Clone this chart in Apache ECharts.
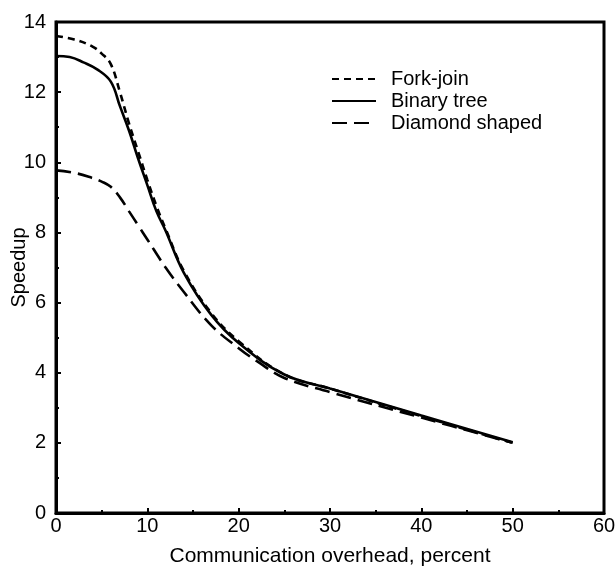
<!DOCTYPE html>
<html>
<head>
<meta charset="utf-8">
<script src="https://cdn.jsdelivr.net/npm/echarts@6/dist/echarts.min.js"></script>
<style>html,body{margin:0;padding:0;background:#fff}#c{width:616px;height:567px}</style>
</head>
<body>
<div id="c"></div>
<script>
var forkX = [0, 2, 4, 5, 6, 7, 8, 9, 10, 11, 12, 14, 17, 20, 25, 30, 40, 50];
var forkY = [13.6, 13.5, 13.3, 13.1, 12.8, 12.0, 11.1, 10.3, 9.5, 8.75, 8.1, 6.9, 5.7, 4.9, 3.95, 3.55, 2.76, 2.0];
var binX = [0, 1.5, 3, 4.5, 6, 7, 8, 9, 10, 11, 12, 14, 17, 20, 25, 30, 40, 50];
var binY = [13.03, 13.0, 12.85, 12.65, 12.3, 11.6, 10.9, 10.1, 9.35, 8.6, 8.05, 6.85, 5.65, 4.85, 3.95, 3.55, 2.78, 2.02];
var diaX = [0, 2, 4, 5, 6, 7, 8, 9, 10, 12, 14, 17, 20, 22, 25, 30, 40, 50];
var diaY = [9.77, 9.7, 9.55, 9.45, 9.3, 9.0, 8.6, 8.2, 7.8, 7.0, 6.3, 5.35, 4.7, 4.33, 3.85, 3.45, 2.72, 2.0];
var xTicks = [0, 10, 20, 30, 40, 50, 60];
var yTicks = [0, 2, 4, 6, 8, 10, 12, 14];
var seriesNames = ['Fork-join', 'Binary tree', 'Diamond shaped'];
var xName = 'Communication overhead, percent';
var yName = 'Speedup';

function pairs(xs, ys) { return xs.map(function (x, i) { return [x, ys[i]]; }); }

var FONT = '"Liberation Sans", Arial, Helvetica, sans-serif';
var chart = echarts.init(document.getElementById('c'), null, { renderer: 'canvas' });
var axisCommon = {
  axisLine: { show: true, lineStyle: { color: '#000', width: 3 } },
  axisTick: { show: true, inside: true, length: 5, lineStyle: { color: '#000', width: 2 } },
  minorTick: { show: true, splitNumber: 2, length: 3, lineStyle: { color: '#000', width: 2 } },
  splitLine: { show: false },
  nameMoveOverlap: false,
  axisLabel: { color: '#000', fontSize: 20, fontFamily: FONT },
  nameTextStyle: { color: '#000', fontSize: 20, fontFamily: FONT }
};
chart.setOption({
  animation: false,
  backgroundColor: '#fff',
  grid: { left: 56, right: 12, top: 22, bottom: 54, show: true, borderColor: '#000', borderWidth: 3,
          containLabel: false, outerBoundsMode: 'none' },
  legend: {
    orient: 'vertical', left: 326, top: 64,
    itemWidth: 44, itemHeight: 14, itemGap: 2,
    data: seriesNames,
    itemStyle: { opacity: 0 },
    textStyle: { color: '#000', fontSize: 20, fontFamily: FONT, padding: [0, 0, 0, 10] }
  },
  xAxis: Object.assign({}, axisCommon, {
    type: 'value', min: 0, max: 60, interval: 10,
    name: xName, nameLocation: 'middle', nameGap: 33,
    nameTextStyle: { color: '#000', fontSize: 21, fontFamily: FONT },
    axisLabel: Object.assign({}, axisCommon.axisLabel, { margin: 3 })
  }),
  yAxis: Object.assign({}, axisCommon, {
    type: 'value', min: 0, max: 14, interval: 2,
    name: yName, nameLocation: 'middle', nameGap: 27,
    axisLabel: Object.assign({}, axisCommon.axisLabel, { margin: 10 })
  }),
  series: [
    { name: seriesNames[0], type: 'line', smooth: 0.4, symbol: 'none', data: pairs(forkX, forkY),
      lineStyle: { color: '#000', width: 2.6, type: [7, 5] }, itemStyle: { color: '#000' }, z: 3 },
    { name: seriesNames[1], type: 'line', smooth: 0.4, symbol: 'none', data: pairs(binX, binY),
      lineStyle: { color: '#000', width: 2.6, type: 'solid' }, itemStyle: { color: '#000' }, z: 2 },
    { name: seriesNames[2], type: 'line', smooth: 0.4, symbol: 'none', data: pairs(diaX, diaY),
      lineStyle: { color: '#000', width: 2.6, type: [15, 7] }, itemStyle: { color: '#000' }, z: 2 }
  ]
});
</script>
</body>
</html>
